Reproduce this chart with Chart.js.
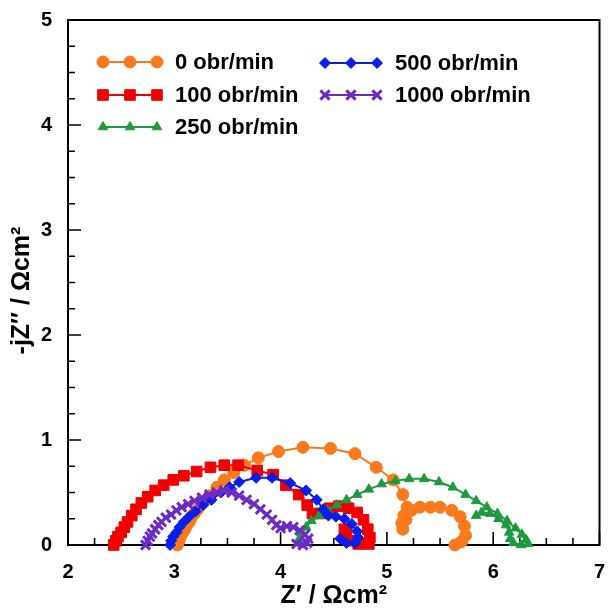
<!DOCTYPE html>
<html>
<head>
<meta charset="utf-8">
<script src="https://cdn.jsdelivr.net/npm/chart.js@4.4.1/dist/chart.umd.min.js"></script>
<style>
  html, body { margin: 0; padding: 0; background: #fff; }
  #wrap { width: 609px; height: 610px; position: relative; }
</style>
</head>
<body>
<div id="wrap"><canvas id="nyquist" width="609" height="610"></canvas></div>
<script>
// rotation speeds (legend) and Nyquist data: Z' (re) and -jZ'' (im), Ωcm²
const labels = ['0 obr/min', '100 obr/min', '250 obr/min', '500 obr/min', '1000 obr/min'];

const re0 = [3.03,3.04,3.05,3.06,3.08,3.10,3.12,3.14,3.16,3.19,3.22,3.25,3.29,3.33,3.40,3.47,3.56,3.66,3.79,3.98,4.21,4.47,4.70,4.90,5.06,5.15,5.19,5.16,5.14,5.15,5.18,5.23,5.31,5.41,5.50,5.61,5.69,5.73,5.74,5.70,5.64];
const im0 = [0.00,0.03,0.06,0.09,0.12,0.15,0.19,0.22,0.26,0.30,0.34,0.38,0.42,0.47,0.55,0.62,0.69,0.76,0.83,0.89,0.93,0.92,0.87,0.74,0.62,0.48,0.36,0.28,0.21,0.15,0.24,0.33,0.36,0.36,0.36,0.33,0.27,0.18,0.09,0.03,0.00];

const re100 = [2.43,2.45,2.47,2.50,2.53,2.56,2.60,2.64,2.69,2.75,2.82,2.90,2.99,3.09,3.21,3.34,3.47,3.60,3.78,3.93,4.05,4.17,4.25,4.30,4.38,4.46,4.55,4.64,4.72,4.78,4.82,4.84,4.83,4.73,4.65,4.62,4.60];
const im100 = [0.00,0.04,0.08,0.12,0.17,0.22,0.28,0.34,0.40,0.46,0.52,0.57,0.62,0.66,0.70,0.74,0.76,0.76,0.71,0.67,0.57,0.48,0.38,0.30,0.30,0.35,0.37,0.35,0.31,0.24,0.15,0.07,0.01,0.01,0.04,0.10,0.15];

const re250 = [4.17,4.20,4.24,4.29,4.36,4.44,4.53,4.62,4.72,4.83,4.95,5.08,5.21,5.35,5.49,5.62,5.74,5.84,5.94,6.04,6.13,6.21,6.27,6.31,6.33,6.26,6.19,6.16,6.15,6.12,6.05,5.97,5.89,5.84];
const im250 = [0.05,0.11,0.17,0.23,0.28,0.33,0.38,0.43,0.48,0.53,0.58,0.61,0.63,0.63,0.60,0.55,0.48,0.42,0.36,0.30,0.23,0.16,0.10,0.05,0.01,0.00,0.02,0.06,0.12,0.19,0.25,0.30,0.31,0.28];

const re500 = [2.96,2.97,2.99,3.02,3.05,3.09,3.14,3.20,3.27,3.35,3.44,3.52,3.61,3.77,3.92,4.09,4.24,4.34,4.40,4.45,4.52,4.60,4.67,4.72,4.73,4.70,4.62,4.56];
const im500 = [0.00,0.04,0.08,0.12,0.17,0.22,0.27,0.32,0.38,0.43,0.50,0.55,0.60,0.64,0.64,0.59,0.52,0.43,0.34,0.28,0.27,0.25,0.20,0.13,0.07,0.02,0.02,0.06];

const re1000 = [2.73,2.75,2.77,2.79,2.82,2.85,2.88,2.92,2.97,3.02,3.07,3.13,3.19,3.26,3.33,3.40,3.47,3.54,3.61,3.68,3.75,3.81,3.87,3.92,3.96,4.00,4.06,4.12,4.18,4.23,4.26,4.25,4.21,4.15];
const im1000 = [0.00,0.04,0.08,0.11,0.15,0.19,0.22,0.26,0.29,0.33,0.36,0.39,0.42,0.45,0.48,0.50,0.52,0.50,0.47,0.43,0.39,0.34,0.29,0.24,0.19,0.16,0.18,0.17,0.14,0.10,0.06,0.02,0.00,0.01];

const xTicks = [2, 3, 4, 5, 6, 7];
const yTicks = [0, 1, 2, 3, 4, 5];

const FONT = "'Liberation Sans', Arial, sans-serif";

const styles = [
    { color: '#F97A1C', pointStyle: 'circle', radius: 6, borderWidth: 1 },
    { color: '#F20000', pointStyle: 'rect', radius: 7.5, borderWidth: 1 },
    { color: '#1E9A3E', pointStyle: 'triangle', radius: 5.5, borderWidth: 1 },
    { color: '#0A1EE8', pointStyle: 'rectRot', radius: 5.5, borderWidth: 1 },
    { color: '#6C2BC4', pointStyle: 'crossRot', radius: 6.5, borderWidth: 3 }
];

const series = [[re0, im0], [re100, im100], [re250, im250], [re500, im500], [re1000, im1000]];

const datasets = series.map(([re, im], i) => ({
    label: labels[i],
    data: re.map((x, k) => ({ x: x, y: im[k] })),
    showLine: true,
    borderColor: styles[i].color,
    backgroundColor: styles[i].color,
    borderWidth: 2,
    pointStyle: styles[i].pointStyle,
    pointRadius: styles[i].radius,
    pointBorderWidth: styles[i].borderWidth,
    pointBorderColor: styles[i].color,
    pointBackgroundColor: styles[i].color,
    tension: 0,
    clip: false,
    order: 4 - i
}));

// frame + inward ticks + y title (drawn a bit below the axis middle, as in the original)
const framePlugin = {
    id: 'frame',
    beforeDatasetsDraw(chart) {
        const { ctx, chartArea: a, scales: { x, y } } = chart;
        ctx.save();
        ctx.strokeStyle = '#000';
        ctx.lineWidth = 2;
        ctx.strokeRect(a.left, a.top, a.right - a.left, a.bottom - a.top);
        ctx.lineWidth = 1.6;
        ctx.beginPath();
        for (let k = 0; k <= 20; k++) {
            const v = 2 + k * 0.25, px = x.getPixelForValue(v), len = k % 4 === 0 ? 13 : 7;
            ctx.moveTo(px, a.bottom); ctx.lineTo(px, a.bottom - len);
        }
        for (let k = 0; k <= 20; k++) {
            const v = k * 0.25, py = y.getPixelForValue(v), len = k % 4 === 0 ? 13 : 7;
            ctx.moveTo(a.left, py); ctx.lineTo(a.left + len, py);
        }
        ctx.stroke();

        ctx.translate(22, (a.top + a.bottom) / 2 + 8);
        ctx.rotate(-Math.PI / 2);
        ctx.fillStyle = '#000';
        ctx.font = 'bold 25px ' + FONT;
        ctx.textAlign = 'center';
        ctx.textBaseline = 'middle';
        ctx.fillText('-jZ\u2033 / \u03A9cm\u00B2', 0, 0);
        ctx.restore();
    }
};

// legend: line with three markers, then label
const legendPos = [
    { xs: [103, 130, 157], y: 62, tx: 175 },
    { xs: [103, 130, 157], y: 95, tx: 175 },
    { xs: [103, 130, 157], y: 127, tx: 175 },
    { xs: [325, 351, 377], y: 63, tx: 395 },
    { xs: [325, 351, 377], y: 95, tx: 395 }
];

const legendPlugin = {
    id: 'markerLegend',
    afterDraw(chart) {
        const ctx = chart.ctx;
        ctx.save();
        legendPos.forEach((p, i) => {
            const s = styles[i];
            ctx.strokeStyle = s.color;
            ctx.fillStyle = s.color;
            ctx.lineWidth = 2;
            ctx.beginPath();
            ctx.moveTo(p.xs[0], p.y); ctx.lineTo(p.xs[2], p.y);
            ctx.stroke();
            p.xs.forEach(px => {
                ctx.lineWidth = s.borderWidth;
                Chart.helpers.drawPoint(ctx, { pointStyle: s.pointStyle, radius: s.radius, rotation: 0, borderWidth: s.borderWidth }, px, p.y);
            });
            ctx.fillStyle = '#000';
            ctx.font = 'bold 22px ' + FONT;
            ctx.textBaseline = 'middle';
            ctx.textAlign = 'left';
            ctx.fillText(labels[i], p.tx, p.y + 1);
        });
        ctx.restore();
    }
};

const noPad = s => { s.paddingLeft = 0; s.paddingRight = 0; s.paddingTop = 0; s.paddingBottom = 0; };

new Chart(document.getElementById('nyquist'), {
    type: 'scatter',
    data: { datasets },
    options: {
        responsive: false,
        animation: false,
        layout: { padding: { top: 20, right: 6, left: 0, bottom: 0 } },
        plugins: { legend: { display: false }, tooltip: { enabled: false } },
        scales: {
            x: {
                type: 'linear', min: 2, max: 7,
                afterFit: s => { s.height = 65; noPad(s); },
                afterBuildTicks: s => { s.ticks = xTicks.map(v => ({ value: v })); },
                grid: { display: false, drawTicks: false },
                border: { display: false },
                ticks: { padding: 15, color: '#000', font: { family: FONT, size: 20, weight: 'bold' } },
                title: { display: true, text: 'Z\u2032 / \u03A9cm\u00B2', color: '#000', padding: { top: 0, bottom: -1 },
                         font: { family: FONT, size: 25, weight: 'bold' } }
            },
            y: {
                type: 'linear', min: 0, max: 5,
                afterFit: s => { s.width = 68; noPad(s); },
                afterBuildTicks: s => { s.ticks = yTicks.map(v => ({ value: v })); },
                grid: { display: false, drawTicks: false },
                border: { display: false },
                ticks: { padding: 16, color: '#000', font: { family: FONT, size: 20, weight: 'bold' } }
            }
        }
    },
    plugins: [framePlugin, legendPlugin]
});
</script>
</body>
</html>
